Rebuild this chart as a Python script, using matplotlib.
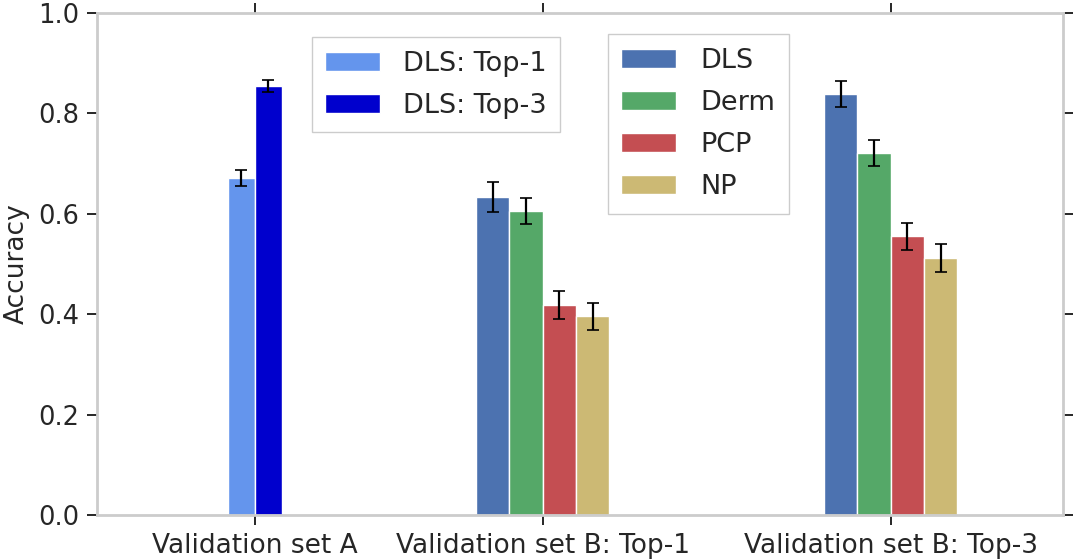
import matplotlib
matplotlib.use("Agg")
import matplotlib.pyplot as plt
import numpy as np

groups = ["Validation set A", "Validation set B: Top-1", "Validation set B: Top-3"]
group_pos = [0.0, 1.0, 2.208]

a_labels = ["DLS: Top-1", "DLS: Top-3"]
a_values = [0.671, 0.855]
a_errors = [0.016, 0.012]
a_colors = ["#6495ED", "#0000CD"]

b_labels = ["DLS", "Derm", "PCP", "NP"]
b_top1 = [0.634, 0.605, 0.418, 0.396]
b_top1_err = [0.030, 0.026, 0.028, 0.027]
b_top3 = [0.839, 0.721, 0.555, 0.511]
b_top3_err = [0.026, 0.025, 0.027, 0.028]
b_colors = ["#4C72B0", "#55A868", "#C44E52", "#CCB974"]

yticks = [0.0, 0.2, 0.4, 0.6, 0.8, 1.0]

plt.rcParams['font.family'] = ['DejaVu Sans']
fig = plt.figure(figsize=(10.8, 5.6), dpi=100)
ax = fig.add_axes([0.0898, 0.0804, 0.8942, 0.8966])

txt = "#262626"
err_kw = dict(ecolor="black", elinewidth=1.6, capsize=4.5, capthick=1.2)

wa = 0.0938
handles_a = []
for i, (v, e, c, lab) in enumerate(zip(a_values, a_errors, a_colors, a_labels)):
    x = group_pos[0] + (i - 0.5) * wa
    b = ax.bar(x, v, width=wa, color=c, edgecolor="white", linewidth=1,
               yerr=e, error_kw=err_kw, label=lab)
    handles_a.append(b)

wb = 0.1157
handles_b = []
for i, (lab, c) in enumerate(zip(b_labels, b_colors)):
    for gp, vals, errs in [(group_pos[1], b_top1, b_top1_err), (group_pos[2], b_top3, b_top3_err)]:
        x = gp + (i - 1.5) * wb
        b = ax.bar(x, vals[i], width=wb, color=c, edgecolor="white", linewidth=1,
                   yerr=errs[i], error_kw=err_kw, label=lab)
    handles_b.append(b)

ax.set_xlim(-0.5486, 2.806)
ax.set_ylim(0, 1.0)
ax.set_xticks(group_pos)
ax.set_xticklabels(groups, fontsize=19)
ax.set_yticks(yticks)
ax.set_yticklabels([f"{t:.1f}" for t in yticks], fontsize=18.5)
ax.set_ylabel("Accuracy", fontsize=19, color=txt, labelpad=6)

for s in ax.spines.values():
    s.set_color("#cccccc")
    s.set_linewidth(2)

ax.tick_params(axis="both", which="both", direction="out", length=7, width=1.4,
               color="#262626", labelcolor=txt,
               top=True, right=True, bottom=True, left=True, pad=6)

leg_fs = 19.5
leg1 = ax.legend(handles=handles_a, labels=a_labels, loc="upper left",
                 bbox_to_anchor=(0.2226, 0.952), borderaxespad=0, fontsize=leg_fs,
                 fancybox=False, edgecolor="#cccccc", framealpha=1,
                 labelspacing=0.6, handlelength=2.0, handletextpad=0.85,
                 borderpad=0.5)
for t in leg1.get_texts():
    t.set_color(txt)
ax.add_artist(leg1)
leg2 = ax.legend(handles=handles_b, labels=b_labels, loc="upper left",
                 bbox_to_anchor=(0.529, 0.958), borderaxespad=0, fontsize=leg_fs,
                 fancybox=False, edgecolor="#cccccc", framealpha=1,
                 labelspacing=0.6, handlelength=2.0, handletextpad=0.93,
                 borderpad=0.5)
for t in leg2.get_texts():
    t.set_color(txt)

fig.savefig("out.png", dpi=100)
